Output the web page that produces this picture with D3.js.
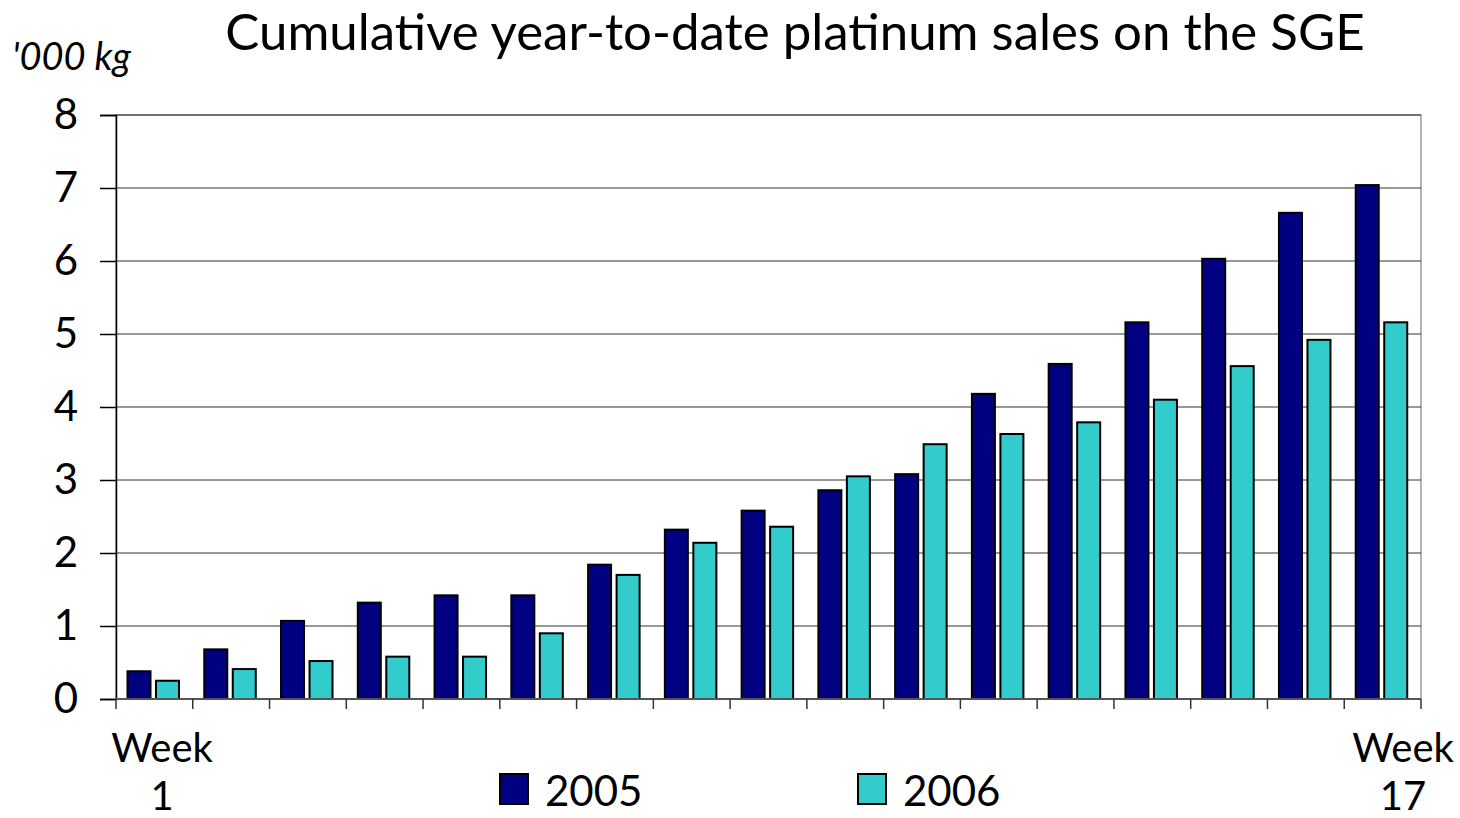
<!DOCTYPE html>
<html>
<head>
<meta charset="utf-8">
<script src="https://cdn.jsdelivr.net/npm/d3@7"></script>
<style>
  body { margin: 0; background: #fff; }
  text { font-family: Lato, "Open Sans", sans-serif; fill: #000; }
</style>
</head>
<body>
<div id="chart"></div>
<script>
const weeks = d3.range(1, 18);
const seriesNames = ["2005", "2006"];
const sales2005 = [0.38, 0.68, 1.07, 1.32, 1.42, 1.42, 1.84, 2.32, 2.58, 2.86, 3.08, 4.18, 4.59, 5.16, 6.03, 6.66, 7.04];
const sales2006 = [0.25, 0.41, 0.52, 0.58, 0.58, 0.90, 1.70, 2.14, 2.36, 3.05, 3.49, 3.63, 3.79, 4.10, 4.56, 4.92, 5.16];
const yTicks = [0, 1, 2, 3, 4, 5, 6, 7, 8];
const colors = ["#000080", "#33CCCC"];

const width = 1460, height = 818;
const plotLeft = 116, plotRight = 1421, plotTop = 115, plotBottom = 699;

const svg = d3.select("#chart").append("svg")
    .attr("width", width)
    .attr("height", height);

const x = d3.scaleBand().domain(weeks).range([plotLeft, plotRight]).padding(0);
const xInner = d3.scaleBand().domain(seriesNames).range([11.5, 63]).paddingInner(0.193);
const y = d3.scaleLinear().domain([0, 8]).range([plotBottom, plotTop]);

// plot frame
svg.append("rect")
    .attr("x", plotLeft).attr("y", plotTop)
    .attr("width", plotRight - plotLeft).attr("height", plotBottom - plotTop)
    .attr("fill", "none").attr("stroke", "#999").attr("stroke-width", 1.5);

// gridlines
svg.append("g").selectAll("line")
    .data(yTicks.filter(d => d > 0))
    .join("line")
    .attr("x1", plotLeft).attr("x2", plotRight)
    .attr("y1", d => y(d)).attr("y2", d => y(d))
    .attr("stroke", "#333").attr("stroke-width", 1);

// bars
const table = weeks.map((w, i) => ({ week: w, values: [sales2005[i], sales2006[i]] }));
const groups = svg.append("g").selectAll("g")
    .data(table)
    .join("g")
    .attr("transform", d => `translate(${x(d.week)},0)`);

groups.selectAll("rect")
    .data(d => d.values.map((v, j) => ({ name: seriesNames[j], v: v, j: j })))
    .join("rect")
    .attr("x", d => xInner(d.name))
    .attr("width", xInner.bandwidth())
    .attr("y", d => y(d.v))
    .attr("height", d => y(0) - y(d.v))
    .attr("fill", d => colors[d.j])
    .attr("stroke", "#000").attr("stroke-width", 2);

// y axis
const yAxis = d3.axisLeft(y).tickValues(yTicks).tickSize(16).tickPadding(22);
const gy = svg.append("g").attr("transform", `translate(${plotLeft},0)`).call(yAxis);
gy.select(".domain").attr("stroke", "#000").attr("stroke-width", 1.5);
gy.selectAll(".tick line").attr("stroke", "#000").attr("stroke-width", 1.5);
gy.selectAll(".tick text")
    .style("font-family", "Lato, sans-serif")
    .style("font-size", "42px").attr("fill", "#000");

// x axis baseline and ticks at band edges
const edges = weeks.map(w => x(w)).concat([plotRight]);
svg.append("line")
    .attr("x1", plotLeft).attr("x2", plotRight).attr("y1", plotBottom).attr("y2", plotBottom)
    .attr("stroke", "#555").attr("stroke-width", 2);
svg.append("g").selectAll("line")
    .data(edges)
    .join("line")
    .attr("x1", d => d).attr("x2", d => d)
    .attr("y1", plotBottom).attr("y2", plotBottom + 10)
    .attr("stroke", "#333").attr("stroke-width", 1.5);

// x labels
const xl = svg.append("g").style("font-size", "40px");
xl.append("text").attr("x", 162).attr("y", 762).attr("text-anchor", "middle").text("Week");
xl.append("text").attr("x", 162).attr("y", 810).attr("text-anchor", "middle").text("1");
xl.append("text").attr("x", 1403).attr("y", 762).attr("text-anchor", "middle").text("Week");
xl.append("text").attr("x", 1403).attr("y", 810).attr("text-anchor", "middle").text("17");

// title and unit
svg.append("text")
    .attr("x", 795).attr("y", 50)
    .attr("text-anchor", "middle")
    .style("font-size", "51px")
    .text("Cumulative year-to-date platinum sales on the SGE");
svg.append("text")
    .attr("x", 12).attr("y", 70)
    .style("font-size", "38px").style("font-style", "italic")
    .text("'000 kg");

// legend
const legendX = [500, 858];
const lg = svg.append("g").selectAll("g")
    .data(seriesNames)
    .join("g")
    .attr("transform", (d, i) => `translate(${legendX[i]},774)`);
lg.append("rect")
    .attr("width", 28).attr("height", 30)
    .attr("fill", (d, i) => colors[i])
    .attr("stroke", "#000").attr("stroke-width", 2);
lg.append("text")
    .attr("x", 45).attr("y", 32)
    .style("font-size", "42px")
    .text(d => d);
</script>
</body>
</html>
